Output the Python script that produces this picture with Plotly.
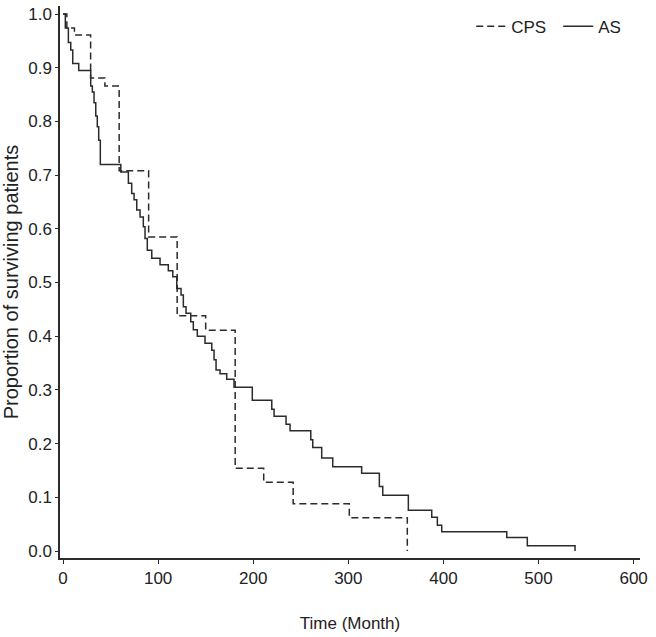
import plotly.graph_objects as go

# Kaplan-Meier estimates (time in months, survival proportion)
cps_time = [0, 4, 12, 29, 44, 59, 90, 120, 150, 181, 211, 242, 301, 362]
cps_surv = [1.0, 0.974, 0.961, 0.881, 0.866, 0.708, 0.585, 0.438, 0.411, 0.154, 0.128, 0.088, 0.062, 0.0]

as_time = [0, 2.4, 5.6, 8.1, 10.2, 16.5, 29.1, 30.8, 32.6, 34.4, 36, 37.5, 39.2, 60.7,
           68.7, 72.2, 74.7, 77.5, 81, 84.4, 86.2, 88.6, 93.3, 102, 110.7, 115.4, 119.6,
           124.1, 126.5, 129.3, 134.3, 137, 141.2, 149.3, 156.4, 158.8, 160.9, 165.1,
           172.1, 179.8, 199, 219.5, 221.9, 234.5, 238.7, 260.5, 262.6, 272, 283.6,
           314, 332.6, 336.2, 363.1, 387.7, 393.6, 398.2, 466.6, 488.2, 538.4]
as_surv = [1.0, 0.974, 0.947, 0.933, 0.908, 0.895, 0.866, 0.855, 0.835, 0.81, 0.79, 0.765, 0.72, 0.706,
           0.685, 0.666, 0.654, 0.635, 0.622, 0.604, 0.582, 0.56, 0.545, 0.533, 0.522, 0.511, 0.489,
           0.477, 0.455, 0.443, 0.427, 0.412, 0.400, 0.387, 0.374, 0.356, 0.337, 0.330,
           0.320, 0.305, 0.281, 0.264, 0.251, 0.236, 0.224, 0.207, 0.193, 0.173, 0.157,
           0.145, 0.120, 0.104, 0.076, 0.063, 0.048, 0.036, 0.025, 0.010, 0.0]

x_ticks = [0, 100, 200, 300, 400, 500, 600]
y_ticks = [0.0, 0.1, 0.2, 0.3, 0.4, 0.5, 0.6, 0.7, 0.8, 0.9, 1.0]

line_col = "#2b2b2b"
font_fam = "Liberation Sans, Arial, sans-serif"

fig = go.Figure()
fig.add_trace(go.Scatter(x=cps_time, y=cps_surv, mode="lines", name="CPS",
                         line=dict(shape="hv", color=line_col, width=1.5, dash="7px,4px")))
fig.add_trace(go.Scatter(x=as_time, y=as_surv, mode="lines", name="AS",
                         line=dict(shape="hv", color=line_col, width=1.5)))

fig.update_layout(
    width=656, height=637,
    margin=dict(l=60, r=16, t=6, b=79),
    plot_bgcolor="white", paper_bgcolor="white",
    font=dict(family=font_fam, size=17, color="#222"),
    showlegend=True,
    legend=dict(orientation="h", x=1.009, xanchor="right", y=0.995, yanchor="top",
                bgcolor="rgba(0,0,0,0)", font=dict(size=17), itemwidth=30,
                entrywidth=42, entrywidthmode="pixels"),
    xaxis=dict(range=[-3.2, 606.7], tickvals=x_ticks, showline=True, linecolor=line_col,
               linewidth=1.5, ticks="outside", ticklen=4, tickcolor=line_col, showgrid=False,
               zeroline=False, automargin=False,
               title=dict(text="Time (Month)", standoff=30, font=dict(size=17))),
    yaxis=dict(range=[-0.013, 1.015], tickvals=y_ticks, tickformat=".1f", showline=True,
               linecolor=line_col, linewidth=1.5, ticks="outside", ticklen=3, tickcolor=line_col,
               showgrid=False, zeroline=False, automargin=False,
               title=dict(text="Proportion of surviving patients", standoff=4, font=dict(size=20))),
)

fig.write_html("out.html", config={"displayModeBar": False},
               post_script="document.body.style.margin='0';document.body.style.padding='0';")
